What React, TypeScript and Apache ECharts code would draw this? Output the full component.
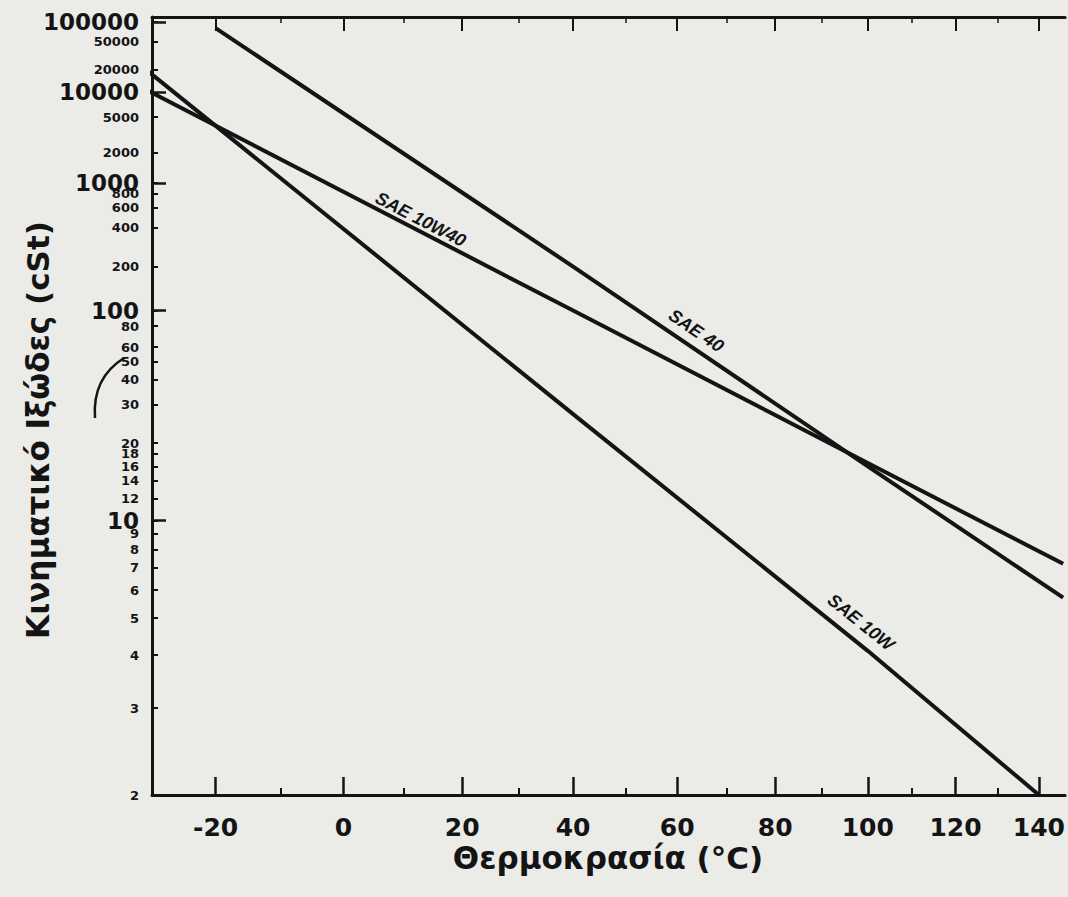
import React, { useEffect, useRef } from "react";
import * as echarts from "echarts";

// ---------- data ----------
const temperatureLabels = [-20, 0, 20, 40, 60, 80, 100, 120, 140];
const temperatureMinor = [-10, 10, 30, 50, 70, 90, 110, 130];
const viscosityLabels = [
  100000, 50000, 20000, 10000, 5000, 2000, 1000, 800, 600, 400, 200, 100, 80, 60, 50, 40, 30,
  20, 18, 16, 14, 12, 10, 9, 8, 7, 6, 5, 4, 3, 2,
];
const viscosityDecades = [100000, 10000, 1000, 100, 10];

const seriesNames = ["SAE 40", "SAE 10W40", "SAE 10W"];
const sae40Temps = [-20, 40, 100, 146];
const sae40Visc = [80000, 200, 16, 5.7];
const sae10w40Temps = [-30, 40, 100, 146];
const sae10w40Visc = [10500, 100, 16.5, 7.2];
const sae10wTemps = [-30, 40, 100, 140];
const sae10wVisc = [19000, 27, 4.1, 2];
const lineLabelTemps = [62, 12, 96];

const tMin = -29.4;
const tMax = 146.5;
const vMin = 2;
const vMax = 120000;

// ASTM D341 chart scales
const toX = (t: number) => Math.log10(t + 273.15);
const toY = (v: number) => Math.log10(Math.log10(v + 0.7));

const INK = "#141414";
const PAPER = "#ebebe8";

export default function App() {
  const ref = useRef<HTMLDivElement>(null);

  useEffect(() => {
    document.body.style.margin = "0";
    if (!ref.current) return;
    const chart = echarts.init(ref.current, null, { renderer: "svg" });

    const xMin = toX(tMin);
    const xMax = toX(tMax);
    const yMin = toY(vMin);
    const yMax = toY(vMax);

    const nearestTemp = (val: number) => Math.round(Math.pow(10, val) - 273.15);
    const nearestVisc = (val: number) => {
      let best = viscosityLabels[0];
      let d = Infinity;
      for (const v of viscosityLabels) {
        const dd = Math.abs(toY(v) - val);
        if (dd < d) {
          d = dd;
          best = v;
        }
      }
      return best;
    };

    const baseX = {
      type: "value" as const,
      min: xMin,
      max: xMax,
      splitLine: { show: false },
    };
    const baseY = {
      type: "value" as const,
      min: yMin,
      max: yMax,
      splitLine: { show: false },
    };

    const allTemps = [sae40Temps, sae10w40Temps, sae10wTemps];
    const allVisc = [sae40Visc, sae10w40Visc, sae10wVisc];

    chart.setOption({
      animation: false,
      backgroundColor: PAPER,
      grid: { left: 152, right: 0, top: 17, bottom: 102 },
      xAxis: [
        {
          ...baseX,
          position: "bottom",
          axisLine: { show: true, onZero: false, lineStyle: { color: INK, width: 3 } },
          axisTick: {
            show: true,
            inside: true,
            length: 18,
            customValues: temperatureLabels.map(toX),
            lineStyle: { color: INK, width: 2.5 },
          },
          axisLabel: {
            show: true,
            customValues: temperatureLabels.map(toX),
            formatter: (v: number) => String(nearestTemp(v)),
            color: INK,
            fontFamily: "DejaVu Sans",
            fontWeight: "bold",
            fontSize: 25,
            margin: 20,
          },
        },
        {
          ...baseX,
          position: "bottom",
          axisLine: { show: false, onZero: false },
          axisTick: {
            show: true,
            inside: true,
            length: 7,
            customValues: temperatureMinor.map(toX),
            lineStyle: { color: INK, width: 2 },
          },
          axisLabel: { show: false },
        },
        {
          ...baseX,
          position: "top",
          axisLine: { show: true, onZero: false, lineStyle: { color: INK, width: 3 } },
          axisTick: {
            show: true,
            inside: true,
            length: 14,
            customValues: temperatureLabels.map(toX),
            lineStyle: { color: INK, width: 2 },
          },
          axisLabel: { show: false },
        },
        {
          ...baseX,
          position: "top",
          axisLine: { show: false, onZero: false },
          axisTick: {
            show: true,
            inside: true,
            length: 6,
            customValues: temperatureMinor.map(toX),
            lineStyle: { color: INK, width: 1.5 },
          },
          axisLabel: { show: false },
        },
      ],
      yAxis: [
        {
          ...baseY,
          position: "left",
          axisLine: { show: true, onZero: false, lineStyle: { color: INK, width: 3 } },
          axisTick: {
            show: true,
            inside: true,
            length: 6,
            customValues: viscosityLabels.map(toY),
            lineStyle: { color: INK, width: 2 },
          },
          axisLabel: {
            show: true,
            customValues: viscosityLabels.map(toY),
            margin: 13,
            formatter: (v: number) => {
              const t = nearestVisc(v);
              return viscosityDecades.includes(t) ? `{big|${t}}` : `{small|${t}}`;
            },
            rich: {
              big: {
                fontFamily: "DejaVu Sans",
                fontWeight: "bold",
                fontSize: 23,
                color: INK,
              },
              small: {
                fontFamily: "DejaVu Sans",
                fontWeight: "bold",
                fontSize: 13,
                color: INK,
              },
            },
          },
        },
        {
          ...baseY,
          position: "left",
          axisLine: { show: false, onZero: false },
          axisTick: {
            show: true,
            inside: true,
            length: 14,
            customValues: viscosityDecades.map(toY),
            lineStyle: { color: INK, width: 2.5 },
          },
          axisLabel: { show: false },
        },
      ],
      series: seriesNames.map((name, i) => ({
        name,
        type: "line",
        xAxisIndex: 0,
        yAxisIndex: 0,
        symbol: "none",
        silent: true,
        clip: true,
        lineStyle: { color: INK, width: 4 },
        data: allTemps[i].map((t, j) => [toX(t), toY(allVisc[i][j])]),
      })),
    });

    // labels that sit along each line, placed through the chart's own scales
    const labelOffsets = [16, 11, 18];
    const lineLabels = seriesNames.map((name, i) => {
      const temps = allTemps[i];
      const vis = allVisc[i];
      const xt = toX(lineLabelTemps[i]);
      let k = 0;
      while (k < temps.length - 2 && toX(temps[k + 1]) < xt) k++;
      const xa = toX(temps[k]);
      const xb = toX(temps[k + 1]);
      const ya = toY(vis[k]);
      const yb = toY(vis[k + 1]);
      const yt = ya + ((yb - ya) * (xt - xa)) / (xb - xa);
      const pa = chart.convertToPixel({ gridIndex: 0 }, [xa, ya]) as number[];
      const pb = chart.convertToPixel({ gridIndex: 0 }, [xb, yb]) as number[];
      const p = chart.convertToPixel({ gridIndex: 0 }, [xt, yt]) as number[];
      const ang = Math.atan2(pb[1] - pa[1], pb[0] - pa[0]);
      const off = labelOffsets[i];
      return {
        type: "text",
        x: p[0] + Math.sin(ang) * off,
        y: p[1] - Math.cos(ang) * off,
        rotation: -ang,
        silent: true,
        style: {
          text: name,
          align: "center",
          verticalAlign: "middle",
          fill: INK,
          font: "italic bold 18px 'Liberation Sans'",
        },
      };
    });

    chart.setOption({
      graphic: [
        ...lineLabels,
        {
          type: "text",
          x: 608,
          y: 858,
          silent: true,
          style: {
            text: "Θερμοκρασία (°C)",
            align: "center",
            verticalAlign: "middle",
            fill: INK,
            font: "bold 31px 'DejaVu Sans'",
          },
        },
        {
          type: "text",
          x: 38,
          y: 430,
          rotation: Math.PI / 2,
          silent: true,
          style: {
            text: "Κινηματικό Ιξώδες (cSt)",
            align: "center",
            verticalAlign: "middle",
            fill: INK,
            font: "bold 31px 'DejaVu Sans'",
          },
        },
        {
          type: "bezierCurve",
          silent: true,
          shape: { x1: 95, y1: 418, x2: 124, y2: 358, cpx1: 92, cpy1: 378 },
          style: { stroke: INK, lineWidth: 2.5, fill: "none" },
        },
      ],
    });

    return () => chart.dispose();
  }, []);

  return <div ref={ref} style={{ width: 1068, height: 897, background: PAPER }} />;
}
